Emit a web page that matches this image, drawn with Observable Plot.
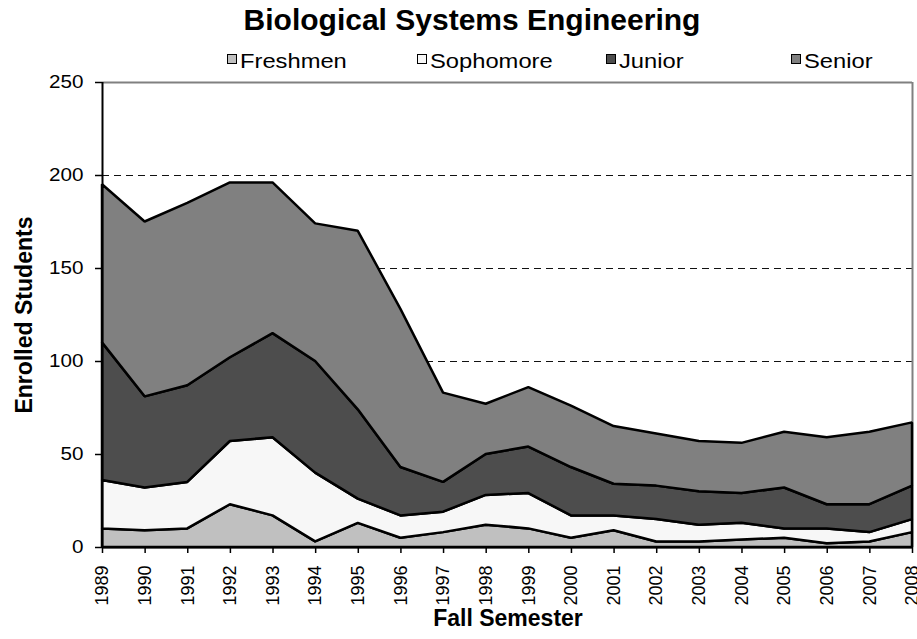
<!DOCTYPE html>
<html>
<head>
<meta charset="utf-8">
<script src="https://cdn.jsdelivr.net/npm/d3@7"></script>
<script src="https://cdn.jsdelivr.net/npm/@observablehq/plot@0.6"></script>
<style>
  body { margin: 0; background: #fff; }
  #wrap { position: relative; width: 917px; height: 639px; overflow: hidden;
          font-family: "Liberation Sans", Arial, Helvetica, sans-serif; color: #000; }
  #wrap svg { position: absolute; left: 0; top: 0; }
  .abs { position: absolute; white-space: nowrap; line-height: 1; }
  .title { font-size: 30px; font-weight: bold; left: 472px; top: 5px; transform: translateX(-50%); }
  .leg { font-size: 21px; top: 50px; transform: scaleX(1.13); transform-origin: left center; }
  .sw { position: absolute; width: 8px; height: 8px; border: 1px solid #000; top: 54px; }
  .ytitle { font-size: 24px; font-weight: bold; left: 24px; top: 315px;
            transform: translate(-50%, -50%) rotate(-90deg) scaleX(0.96); }
  .xtitle { font-size: 23px; font-weight: bold; left: 508px; top: 607px;
            transform: translateX(-50%) scaleX(1.0); }
</style>
</head>
<body>
<div id="wrap"></div>
<script>
const years = [1989,1990,1991,1992,1993,1994,1995,1996,1997,1998,1999,2000,2001,2002,2003,2004,2005,2006,2007,2008];
const freshmen  = [10, 9,10,23,17, 3,13, 5, 8,12,10, 5, 9, 3, 3, 4, 5, 2, 3, 8];
const sophomore = [26,23,25,34,42,37,13,12,11,16,19,12, 8,12, 9, 9, 5, 8, 5, 7];
const junior    = [74,49,52,45,56,60,48,26,16,22,25,26,17,18,18,16,22,13,15,18];
const senior    = [85,94,98,94,81,74,96,85,48,27,32,33,31,28,27,27,30,36,39,34];
const classes = ["Freshmen", "Sophomore", "Junior", "Senior"];
const colors  = ["#c0c0c0", "#f7f7f7", "#4d4d4d", "#808080"];
const yTicks = [0, 50, 100, 150, 200, 250];
const gridTicks = [50, 100, 150, 200];
const titleText = "Biological Systems Engineering";
const xTitle = "Fall Semester";
const yTitle = "Enrolled Students";

const series = [freshmen, sophomore, junior, senior];
const data = classes.flatMap((c, i) => years.map((yr, j) => ({year: yr, cls: c, value: series[i][j]})));

const chart = Plot.plot({
  width: 917, height: 639,
  marginLeft: 102, marginRight: 5, marginTop: 82, marginBottom: 92,
  style: {fontFamily: "'Liberation Sans', Arial, sans-serif", fontSize: "17px", color: "#000", background: "#fff", overflow: "visible"},
  x: {domain: [1989, 2008]},
  y: {domain: [0, 250]},
  color: {domain: classes, range: colors},
  marks: [
    Plot.ruleY(gridTicks, {stroke: "#111", strokeDasharray: "7,5", strokeWidth: 1}),
    Plot.ruleY([250], {stroke: "#808080", strokeWidth: 2}),
    Plot.ruleX([2008], {stroke: "#808080", strokeWidth: 2}),
    Plot.areaY(data, {x: "year", y: "value", z: "cls", fill: "cls", order: classes,
                      stroke: "#000", strokeWidth: 2.5, strokeLinejoin: "miter"}),
    Plot.ruleX([1989], {stroke: "#000", strokeWidth: 2}),
    Plot.ruleY([0], {stroke: "#000", strokeWidth: 2}),
    Plot.axisY(yTicks, {tickSize: 7, tickPadding: 12, tickFormat: d => String(d), label: null,
                        fontSize: 17.5, strokeWidth: 1.5}),
    Plot.axisX(years, {tickSize: 6, tickPadding: 12, tickRotate: -90, tickFormat: d => String(d),
                       label: null, fontSize: 18, strokeWidth: 1.5})
  ]
});

const wrap = document.getElementById("wrap");
wrap.appendChild(chart);

// Slightly widen y tick labels like the reference
chart.querySelectorAll('g[aria-label="y-axis tick label"] text').forEach(t => {
  const tr = t.getAttribute("transform");
  if (tr) t.setAttribute("transform", tr + " scale(1.18,1)");
});

function addDiv(cls, text, style) {
  const d = document.createElement("div");
  d.className = "abs " + cls;
  d.textContent = text;
  if (style) Object.assign(d.style, style);
  wrap.appendChild(d);
  return d;
}
addDiv("title", titleText);
addDiv("ytitle", yTitle);
addDiv("xtitle", xTitle);

const swatchX = [227, 417, 606, 791];
classes.forEach((c, i) => {
  const s = document.createElement("div");
  s.className = "sw";
  s.style.left = swatchX[i] + "px";
  s.style.background = colors[i];
  wrap.appendChild(s);
  addDiv("leg", c, {left: (swatchX[i] + 13) + "px"});
});
</script>
</body>
</html>
